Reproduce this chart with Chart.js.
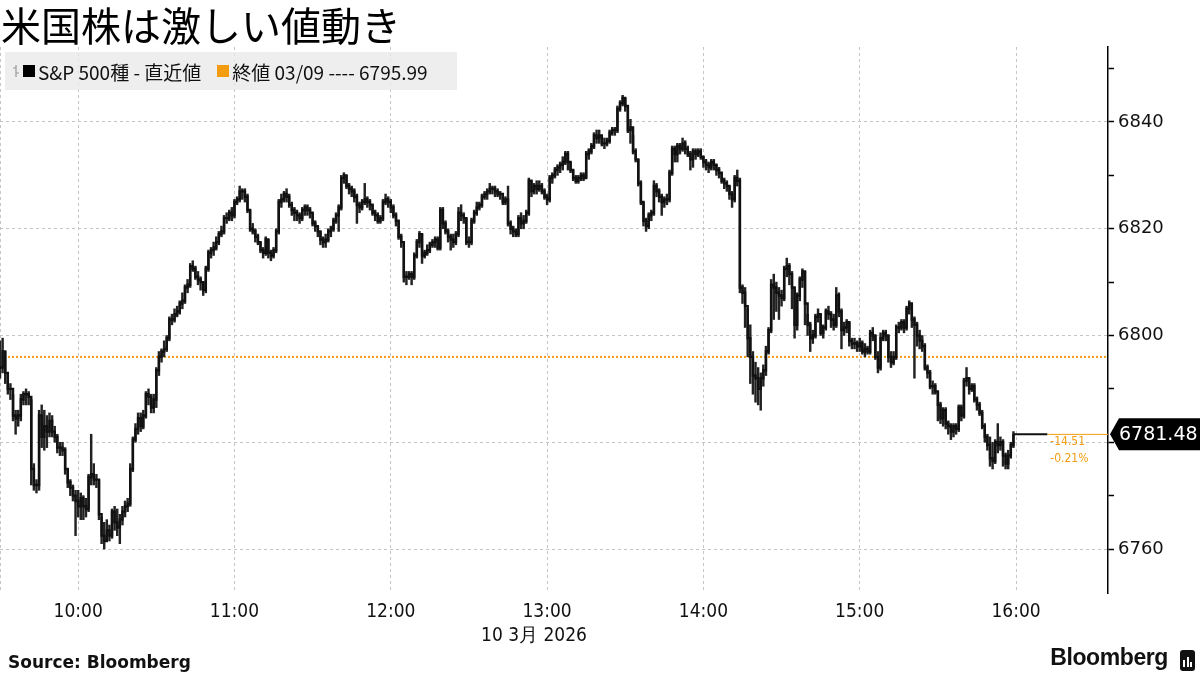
<!DOCTYPE html>
<html lang="ja">
<head>
<meta charset="utf-8">
<title>米国株は激しい値動き</title>
<script src="https://cdn.jsdelivr.net/npm/chart.js@4.4.1/dist/chart.umd.min.js"></script>
<style>
  html, body { margin: 0; padding: 0; background: #fff; }
  #quadro { position: relative; width: 1200px; height: 675px; overflow: hidden; font-family: "Noto Sans CJK JP", sans-serif; }
  #grafico { position: absolute; left: 0; top: 0; }
  .titulo { position: absolute; left: 1px; top: -5px; font-size: 40px; font-weight: 400; color: #000; white-space: nowrap; }
  .legenda { position: absolute; left: 5px; top: 52px; width: 452px; height: 38px; background: rgba(234,234,234,0.8);
             display: flex; align-items: center; font-size: 19px; color: #111; white-space: nowrap; }
  .legenda svg { margin-left: 7px; margin-right: 3px; }
  .quad { display: inline-block; width: 12px; height: 12px; margin-right: 3px; }
  .data { position: absolute; left: 534px; top: 622px; transform: translateX(-50%); font-family: "DejaVu Sans Condensed", sans-serif; font-size: 19px; color: #111; white-space: nowrap; }
  .fonte { position: absolute; left: 8px; top: 652px; font-family: "DejaVu Sans", sans-serif; font-weight: bold; font-size: 17px; color: #111; }
  .marca { position: absolute; right: 32px; top: 644px; font-family: "Liberation Sans", sans-serif; font-weight: bold; font-size: 23px; letter-spacing: -0.4px; color: #111; }
  .icone { position: absolute; left: 1180px; top: 650px; width: 15px; height: 21px; background: #111; border-radius: 3px; }
  .icone i { position: absolute; bottom: 4px; width: 2px; background: #fff; }
</style>
</head>
<body>
<div id="quadro">
  <canvas id="grafico" width="1200" height="675"></canvas>
  <div class="titulo">米国株は激しい値動き</div>
  <div class="legenda">
    <svg width="8" height="14"><path d="M4 1 V13 M1 4 H4 M4 9 H7" stroke="#999" stroke-width="1.2" fill="none"/></svg>
    <span class="quad" style="background:#000"></span><span>S&amp;P 500種 - 直近値</span>
    <span class="quad" style="background:#f39c12; margin-left:16px"></span><span id="legFech"></span>
  </div>
  <div class="data">10 3月 2026</div>
  <div class="fonte">Source: Bloomberg</div>
  <div class="marca">Bloomberg</div>
  <div class="icone"><i style="left:3px;height:7px"></i><i style="left:6.5px;height:10px"></i><i style="left:10px;height:5px"></i></div>
</div>
<script>
/* global Chart */

// ================== DADOS (barras de 1 minuto desde 9:30) ==================
const fechamentos = [
  6794, 6797, 6793, 6790, 6790, 6785, 6784.5, 6785, 6788, 6789,
  6789, 6788.5, 6775, 6772, 6772, 6785, 6781, 6783, 6782, 6784,
  6782, 6781, 6779, 6779, 6778.5, 6775, 6772.5, 6771.5, 6770, 6769,
  6768, 6769.5, 6768, 6767.5, 6773.5, 6774, 6773, 6773, 6766.5, 6762.5,
  6761.5, 6763.5, 6762.5, 6767, 6765, 6764, 6765.5, 6767, 6768, 6768.5,
  6775, 6780.5, 6782.5, 6784.5, 6783, 6785, 6789, 6788.5, 6786.5, 6788,
  6793.5, 6796, 6797, 6797.5, 6799.5, 6803, 6803, 6804, 6804.5, 6806,
  6806.5, 6809, 6809.5, 6813, 6812.5, 6811, 6810.5, 6810, 6808.5, 6812.5,
  6815.5, 6816, 6816.5, 6817.5, 6819, 6819.5, 6822, 6822, 6823, 6822.5,
  6825, 6825.5, 6827, 6827, 6826, 6823.5, 6820, 6819.5, 6818.5, 6817.5,
  6816, 6815.5, 6818, 6815.5, 6815, 6816, 6819.5, 6825, 6825.5, 6826.5,
  6826, 6824.5, 6823.5, 6823, 6822.5, 6822, 6823.5, 6824, 6823.5, 6823,
  6821, 6820.5, 6819.5, 6818, 6817.5, 6818, 6819.5, 6820, 6821.5, 6822.5,
  6824, 6829.5, 6830, 6828, 6827.5, 6827, 6826, 6824.5, 6824, 6825,
  6825.5, 6825, 6824.5, 6823, 6822.5, 6821.5, 6822, 6825, 6825.5, 6825,
  6824, 6822.5, 6821.5, 6818.5, 6817.5, 6811, 6811, 6811.5, 6811, 6815,
  6817.5, 6819, 6815, 6815.5, 6816, 6817, 6817.5, 6818, 6816.5, 6823.5,
  6821, 6819.5, 6818.5, 6818, 6817.5, 6819, 6823, 6822.5, 6822, 6817.5,
  6817.5, 6821.5, 6823, 6824, 6824.5, 6826, 6826.5, 6827, 6827.5, 6827.5,
  6827, 6826.5, 6826.5, 6825, 6825.5, 6821, 6820, 6819.5, 6819, 6822,
  6821, 6821.5, 6823, 6829, 6827, 6828, 6827.5, 6828, 6827, 6826,
  6825.5, 6829.5, 6830, 6831, 6831.5, 6832, 6832.5, 6834, 6832.5, 6831,
  6829.5, 6829, 6829.5, 6830, 6829.5, 6834, 6834.5, 6835.5, 6837.5, 6837,
  6837.5, 6836, 6836, 6836.5, 6838, 6838.5, 6838.5, 6842.5, 6843.5, 6844.5,
  6843, 6838.5, 6839, 6834.5, 6833, 6828.5, 6825, 6821.5, 6820.5, 6822.5,
  6823, 6828, 6827, 6826, 6825, 6825.5, 6825.5, 6830.5, 6835, 6834,
  6835.5, 6835, 6836, 6835, 6834, 6833, 6834.5, 6834, 6834.5, 6833.5,
  6832.5, 6832, 6831.5, 6832.5, 6832, 6831, 6830.5, 6829, 6828.5, 6828,
  6826.5, 6825.5, 6829.5, 6829, 6809, 6808, 6805.5, 6799.5, 6796, 6792.5,
  6792, 6790, 6792, 6793.5, 6797, 6801, 6809.5, 6809, 6808, 6807.5,
  6807, 6812.5, 6813, 6811.5, 6809, 6802, 6807.5, 6810.5, 6812, 6806,
  6802, 6799.5, 6800, 6803.5, 6804, 6800.5, 6801.5, 6804.5, 6804, 6803,
  6802, 6807.5, 6804.5, 6801, 6801.5, 6802.5, 6799, 6798.5, 6798.5, 6798,
  6798.5, 6797, 6797.5, 6797, 6800.5, 6800, 6796, 6794, 6799.5, 6800.5,
  6800, 6796, 6795, 6796, 6801.5, 6801.5, 6802.5, 6801.5, 6805, 6806,
  6803, 6802, 6800, 6799, 6798, 6794, 6793, 6790.5, 6790.5, 6789.5,
  6787, 6784.5, 6786, 6783.5, 6783, 6782, 6783, 6782.5, 6786.5, 6785,
  6791.5, 6792, 6790, 6790.5, 6788, 6787, 6785.5, 6783, 6781, 6779.5,
  6777, 6776.5, 6780, 6779.5, 6780, 6777.5, 6776, 6777.5, 6779.5, 6781.48,
];

const maximas = [
  6799, 6799.5, 6797, 6793, 6791, 6789, 6786, 6786, 6789, 6789.5,
  6790, 6789.5, 6788, 6776, 6773, 6786, 6787, 6786, 6785, 6785.5,
  6785, 6783, 6781.5, 6780, 6780, 6779, 6775, 6773, 6772, 6771,
  6771, 6770.5, 6770, 6769.5, 6774, 6781.5, 6776, 6774, 6773, 6766,
  6765, 6765.5, 6764.5, 6767.5, 6768, 6767.5, 6766.5, 6768, 6769, 6769.5,
  6776, 6781, 6783.5, 6785.5, 6785.5, 6786, 6789.5, 6790, 6789, 6789,
  6794, 6797, 6797.5, 6799, 6800, 6803.5, 6804, 6805, 6805.5, 6806.5,
  6808, 6809.5, 6810.5, 6813.5, 6814, 6813, 6812, 6811, 6810, 6813,
  6816, 6816.5, 6817.5, 6818.5, 6819.5, 6820.5, 6822.5, 6823, 6823.5, 6824,
  6825.5, 6826, 6828, 6827.5, 6827.5, 6826.5, 6823.5, 6821, 6820, 6819,
  6817.5, 6816.5, 6818.5, 6818, 6816, 6816.5, 6820, 6825.5, 6826.5, 6827,
  6827.5, 6826.5, 6825, 6824, 6823.5, 6823, 6824, 6824.5, 6824.5, 6824,
  6823, 6821.5, 6820.5, 6819.5, 6818.5, 6819, 6820, 6820.5, 6822, 6823,
  6824.5, 6830, 6830.5, 6830, 6828.5, 6828, 6827.5, 6826.5, 6825, 6825.5,
  6828.5, 6826, 6825.5, 6824.5, 6823.5, 6823, 6822.5, 6825.5, 6826.5, 6826,
  6825.5, 6824.5, 6823, 6821.5, 6819, 6817.5, 6812, 6812, 6812, 6815.5,
  6818, 6819.5, 6819, 6816, 6817, 6817.5, 6818, 6818.5, 6818.5, 6824,
  6824, 6821.5, 6820, 6819, 6819, 6819.5, 6824, 6824.5, 6823, 6822,
  6818.5, 6822, 6823.5, 6825, 6825, 6826.5, 6827, 6827.5, 6828.5, 6828,
  6828, 6827.5, 6827, 6826.5, 6826, 6828, 6821.5, 6820.5, 6820, 6822.5,
  6823, 6822.5, 6823.5, 6829.5, 6829, 6828.5, 6829, 6829, 6828.5, 6827.5,
  6826.5, 6830, 6830.5, 6831.5, 6832, 6832.5, 6833.5, 6834.5, 6834.5, 6832.5,
  6831, 6830, 6830, 6830.5, 6830.5, 6834.5, 6835, 6836, 6838, 6838.5,
  6838.5, 6837.5, 6837, 6837, 6838.5, 6839, 6839, 6843, 6844, 6845,
  6844.5, 6843, 6840.5, 6837.5, 6835, 6833, 6829, 6825, 6822, 6823,
  6823.5, 6829, 6828.5, 6827.5, 6826.5, 6826, 6826.5, 6831, 6835.5, 6835.5,
  6836, 6836, 6837, 6836.5, 6835.5, 6834.5, 6835, 6835, 6835, 6835,
  6833.5, 6833, 6832.5, 6833, 6833, 6832, 6831.5, 6830.5, 6829.5, 6829,
  6828, 6827, 6830, 6831, 6829.5, 6809.5, 6809, 6805, 6802, 6797,
  6795, 6794, 6793, 6794.5, 6798, 6801.5, 6810.5, 6811.5, 6810, 6809,
  6808.5, 6813, 6814.5, 6813.5, 6812, 6809, 6808, 6811, 6812.5, 6812,
  6804, 6802.5, 6801, 6804, 6805, 6804, 6802, 6805, 6805.5, 6804.5,
  6804, 6809, 6808, 6805, 6802.5, 6803, 6802.5, 6799.5, 6799.5, 6799,
  6799.5, 6799, 6798.5, 6798, 6801, 6801.5, 6800, 6797, 6800.5, 6801,
  6801, 6800, 6797, 6797, 6802, 6802.5, 6803, 6803, 6805.5, 6806.5,
  6806, 6803.5, 6802.5, 6801, 6800, 6798.5, 6794.5, 6793.5, 6791.5, 6791,
  6789.5, 6787.5, 6786.5, 6786.5, 6784, 6783.5, 6783.5, 6783.5, 6787, 6787,
  6792, 6794, 6792, 6791, 6791, 6788.5, 6787.5, 6786, 6783.5, 6781.5,
  6781, 6780, 6780.5, 6783.5, 6781, 6780.5, 6778, 6778.5, 6780, 6782,
];

const minimas = [
  6792, 6793, 6791, 6789, 6788, 6784, 6781.5, 6783, 6784, 6787,
  6787, 6787, 6772, 6771, 6770.5, 6771, 6779, 6778.5, 6779, 6781,
  6781, 6780, 6778, 6777.5, 6777.5, 6774, 6771.5, 6770, 6769, 6762.5,
  6766, 6765.5, 6765.5, 6766, 6767, 6772, 6772, 6771.5, 6765.5, 6761,
  6760, 6761.5, 6761.5, 6762, 6763.5, 6762.5, 6761, 6764.5, 6766, 6767,
  6768, 6774.5, 6780, 6781.5, 6782, 6782.5, 6784.5, 6787, 6785.5, 6785.5,
  6786.5, 6792.5, 6795, 6796, 6797, 6799, 6802, 6802.5, 6803.5, 6804,
  6805, 6806, 6808, 6809, 6812, 6810.5, 6809.5, 6808.5, 6807.5, 6808,
  6812, 6814.5, 6815, 6816, 6817, 6818.5, 6819, 6821, 6821.5, 6821.5,
  6822, 6824.5, 6825, 6825.5, 6825, 6823, 6819.5, 6819, 6817.5, 6817,
  6815.5, 6814.5, 6815, 6814.5, 6814, 6814.5, 6815.5, 6819, 6824, 6825,
  6825, 6824, 6822.5, 6821.5, 6821.5, 6821, 6821.5, 6822.5, 6822.5, 6822,
  6820.5, 6819.5, 6818.5, 6817, 6816.5, 6816.5, 6817.5, 6818.5, 6819.5, 6821,
  6819.5, 6823.5, 6828.5, 6827.5, 6826.5, 6826, 6825, 6821, 6823, 6823.5,
  6824.5, 6824, 6823.5, 6822.5, 6821.5, 6821, 6821, 6821.5, 6824.5, 6824,
  6823, 6822, 6820.5, 6818, 6816.5, 6810, 6809.5, 6810.5, 6809.5, 6810.5,
  6814.5, 6816.5, 6813.5, 6814.5, 6815, 6815.5, 6816.5, 6816.5, 6816, 6816,
  6820, 6819, 6817.5, 6816, 6816.5, 6817, 6818.5, 6821.5, 6821, 6817,
  6816.5, 6817, 6821, 6822.5, 6823.5, 6824, 6825.5, 6825.5, 6826.5, 6826.5,
  6826, 6826, 6825.5, 6824.5, 6824.5, 6820.5, 6819, 6818.5, 6818.5, 6818.5,
  6820, 6820, 6821, 6822.5, 6826, 6826.5, 6826.5, 6827, 6826.5, 6825.5,
  6824.5, 6825, 6828.5, 6829.5, 6830, 6830.5, 6831, 6832, 6831, 6830.5,
  6829, 6828.5, 6828.5, 6829, 6829, 6829.5, 6833, 6834, 6835, 6836,
  6836, 6835.5, 6835, 6835.5, 6836, 6837.5, 6837.5, 6838, 6842, 6843,
  6842, 6838, 6836, 6834, 6832.5, 6828, 6824.5, 6820.5, 6819.5, 6820,
  6821.5, 6822.5, 6826, 6825, 6822.5, 6824, 6824.5, 6825, 6830, 6832.5,
  6832.5, 6834, 6834.5, 6834, 6833.5, 6831, 6831.5, 6833, 6833.5, 6833,
  6831.5, 6831, 6830.5, 6831, 6831, 6830, 6829.5, 6828.5, 6827.5, 6827,
  6825.5, 6824, 6825, 6828, 6808, 6806, 6801.5, 6796, 6791, 6789,
  6787.5, 6787, 6786, 6790.5, 6792.5, 6796.5, 6800.5, 6803, 6804.5, 6803,
  6805.5, 6806.5, 6811, 6809.5, 6805, 6799.5, 6801, 6806.5, 6809, 6802,
  6800, 6797, 6798.5, 6799.5, 6802.5, 6800, 6799.5, 6801, 6803, 6801.5,
  6801, 6801.5, 6803.5, 6797.5, 6800, 6800.5, 6798, 6797.5, 6797.5, 6797,
  6797, 6796.5, 6796, 6796.5, 6796.5, 6799, 6795.5, 6793, 6793.5, 6799,
  6799, 6795, 6794, 6794.5, 6795.5, 6800.5, 6801, 6800.5, 6801, 6804,
  6801.5, 6792, 6798, 6797.5, 6797, 6793.5, 6792, 6790, 6789, 6789,
  6784, 6783.5, 6783, 6782.5, 6781.5, 6780.5, 6781, 6781.5, 6782, 6784,
  6784.5, 6790.5, 6789, 6789.5, 6787.5, 6786, 6785, 6782.5, 6780, 6778.5,
  6775.5, 6775, 6776, 6778, 6778.5, 6775.5, 6775, 6775, 6777, 6779,
];

const fechamentoAnterior = 6795.99; // 終値 03/09
const ultimoPreco = 6781.48;
const fimExtensao = 402; // minuto onde termina a linha do último preço

// eixo x: minutos desde 9:30
const marcasMinuto = [0, 30, 90, 150, 210, 270, 330, 390];
const rotulosHora = ["", "10:00", "11:00", "12:00", "13:00", "14:00", "15:00", "16:00"];
const marcasPreco = [6760, 6770, 6780, 6790, 6800, 6810, 6820, 6830, 6840, 6850];

const LARANJA = "#f39c12";

document.getElementById("legFech").textContent = "終値 03/09 ---- " + fechamentoAnterior.toFixed(2);

// ================== RÓTULO DO ÚLTIMO PREÇO ==================
const rotuloUltimo = {
  id: "rotuloUltimo",
  afterDraw(chart) {
    const { ctx, chartArea } = chart;
    const x = chart.scales.x;
    const y = chart.scales.y;
    const py = y.getPixelForValue(ultimoPreco);
    const esq = chartArea.right + 2;

    ctx.save();
    // caixa preta com seta
    ctx.fillStyle = "#000";
    ctx.beginPath();
    ctx.moveTo(esq, py);
    ctx.lineTo(esq + 9, py - 16);
    ctx.lineTo(1200, py - 16);
    ctx.lineTo(1200, py + 16);
    ctx.lineTo(esq + 9, py + 16);
    ctx.closePath();
    ctx.fill();
    ctx.fillStyle = "#fff";
    ctx.font = '19px "DejaVu Sans", sans-serif';
    ctx.textBaseline = "middle";
    ctx.textAlign = "left";
    ctx.fillText(ultimoPreco.toFixed(2), esq + 9, py + 1);

    // variação
    const dif = ultimoPreco - fechamentoAnterior;
    const pct = (dif / fechamentoAnterior) * 100;
    const xl = x.getPixelForValue(fimExtensao) + 3;
    ctx.fillStyle = LARANJA;
    ctx.font = '12px "DejaVu Sans Condensed", sans-serif';
    ctx.fillText(dif.toFixed(2), xl, py + 8);
    ctx.fillText(pct.toFixed(2) + "%", xl, py + 25);
    ctx.restore();
  },
};

// ================== GRÁFICO ==================
const ctx = document.getElementById("grafico");
const minutos = fechamentos.map((_, i) => i);

new Chart(ctx, {
  type: "bar",
  data: {
    datasets: [
      {
        type: "bar",
        data: minutos.map((m, i) => ({ x: m, y: [minimas[i], maximas[i]] })),
        backgroundColor: "#222",
        borderWidth: 0,
        barThickness: 1.8,
        order: 2,
      },
      {
        type: "line",
        data: minutos.map((m, i) => ({ x: m, y: fechamentos[i] })),
        borderColor: "#111",
        borderWidth: 2.4,
        stepped: "before",
        pointRadius: 0,
        order: 1,
      },
      {
        type: "line",
        data: [
          { x: minutos[minutos.length - 1], y: ultimoPreco },
          { x: fimExtensao, y: ultimoPreco },
        ],
        borderColor: "#111",
        borderWidth: 2,
        pointRadius: 0,
        order: 1,
      },
      {
        type: "line",
        data: [
          { x: fimExtensao, y: ultimoPreco },
          { x: 425.3, y: ultimoPreco },
        ],
        borderColor: LARANJA,
        borderWidth: 1,
        pointRadius: 0,
        order: 1,
      },
      {
        type: "line",
        data: [
          { x: 0, y: fechamentoAnterior },
          { x: 425.3, y: fechamentoAnterior },
        ],
        borderColor: LARANJA,
        borderWidth: 2,
        borderDash: [2, 2],
        pointRadius: 0,
        order: 5,
      },
    ],
  },
  options: {
    responsive: false,
    animation: false,
    devicePixelRatio: 1,
    layout: { padding: { top: 47, bottom: 0, left: 0, right: 0 } },
    plugins: { legend: { display: false }, tooltip: { enabled: false } },
    scales: {
      x: {
        type: "linear",
        min: 0,
        max: 425.3,
        offset: false,
        afterBuildTicks: (s) => {
          s.ticks = marcasMinuto.map((v) => ({ value: v }));
        },
        afterFit: (s) => {
          s.height = 82;
          s.paddingLeft = 0;
          s.paddingRight = 0;
        },
        ticks: {
          autoSkip: false,
          maxRotation: 0,
          padding: 8,
          color: "#111",
          font: { family: "DejaVu Sans Condensed", size: 19 },
          callback: (v) => rotulosHora[marcasMinuto.indexOf(v)],
        },
        grid: { color: "#c4c4c4", lineWidth: 1, drawTicks: false, offset: false },
        border: { display: false, dash: [3, 3] },
      },
      y: {
        type: "linear",
        position: "right",
        min: 6751.76,
        max: 6854.05,
        afterBuildTicks: (s) => {
          s.ticks = marcasPreco.map((v) => ({ value: v }));
        },
        afterFit: (s) => {
          s.width = 92;
        },
        ticks: {
          padding: 4,
          color: "#111",
          font: { family: "DejaVu Sans", size: 18 },
          callback: (v) => (v % 20 === 0 ? String(v) : ""),
        },
        grid: {
          color: (c) => (c.tick && c.tick.value % 20 === 0 ? "#c4c4c4" : "rgba(0,0,0,0)"),
          lineWidth: 1,
          tickColor: "#000",
          tickLength: 6,
          tickWidth: 1.5,
        },
        border: { display: true, color: "#000", width: 1.5, dash: [3, 3] },
      },
    },
  },
  plugins: [rotuloUltimo],
});
</script>
</body>
</html>
